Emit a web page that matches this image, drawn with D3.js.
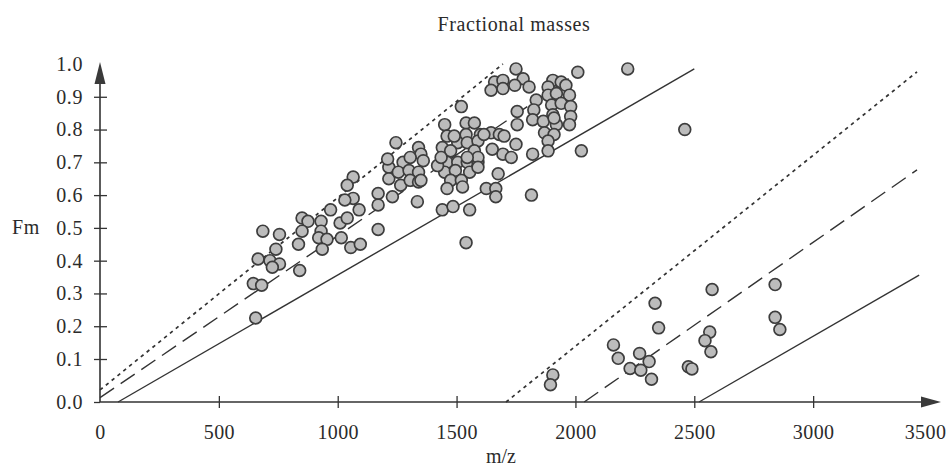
<!DOCTYPE html>
<html>
<head>
<meta charset="utf-8">
<script src="https://cdn.jsdelivr.net/npm/d3@7"></script>
<style>
  body { margin: 0; background: #fff; }
  text { font-family: "Liberation Serif", "Times New Roman", serif; fill: #2b2b2b; }
</style>
</head>
<body>
<svg id="chart" width="950" height="467"></svg>
<script>
// Fractional mass (Fm) against m/z for the measured peptide ions.
const chartTitle = "Fractional masses";
const xTitle = "m/z";
const yTitle = "Fm";

const xTicks = [0, 500, 1000, 1500, 2000, 2500, 3000, 3500];
const yTicks = [0, 0.1, 0.2, 0.3, 0.4, 0.5, 0.6, 0.7, 0.8, 0.9, 1.0];

// Singly charged ions: [m/z, Fm]
const singlyCharged = [
  [655,0.225],[645,0.33],[680,0.325],[665,0.405],[715,0.40],[755,0.39],[725,0.38],[740,0.435],
  [755,0.48],[685,0.49],[835,0.45],[840,0.37],
  [850,0.53],[875,0.52],[850,0.49],[970,0.555],[930,0.52],[930,0.49],[920,0.47],[955,0.465],
  [935,0.435],[1010,0.515],[1040,0.53],[1065,0.59],[1065,0.655],[1040,0.63],[1090,0.555],
  [1015,0.47],[1055,0.44],[1095,0.45],[1170,0.495],[1170,0.605],[1170,0.57],[1230,0.595],
  [1030,0.585],
  [1245,0.76],[1340,0.745],[1350,0.725],[1215,0.685],[1275,0.70],[1305,0.715],[1360,0.705],
  [1215,0.65],[1255,0.67],[1300,0.675],[1340,0.67],[1265,0.63],[1305,0.645],[1340,0.64],[1335,0.58],
  [1210,0.71],[1350,0.645],
  [1750,0.985],[2010,0.975],[1660,0.945],[1695,0.95],[1780,0.955],[1645,0.92],[1695,0.925],
  [1745,0.935],[1805,0.93],[1905,0.95],[1940,0.945],[1960,0.935],[1885,0.93],[1520,0.87],
  [1835,0.89],[1885,0.905],[1920,0.91],[1975,0.905],[1755,0.855],[1825,0.86],[1900,0.875],
  [1940,0.88],[1980,0.87],[1755,0.815],[1820,0.83],[1905,0.845],[1865,0.825],[1920,0.815],
  [1980,0.84],[1975,0.815],[1870,0.79],[1910,0.785],[1885,0.765],[1885,0.735],[1820,0.725],
  [2025,0.735],[1450,0.815],[1540,0.82],[1575,0.82],[1460,0.78],[1540,0.785],[1600,0.785],
  [1645,0.79],[1680,0.785],[1505,0.76],[1545,0.76],[1590,0.765],[1750,0.755],[1440,0.745],
  [1475,0.735],[1575,0.735],[1650,0.74],[1695,0.725],[1730,0.715],[1460,0.70],[1505,0.70],
  [1545,0.70],[1590,0.70],[1450,0.67],[1495,0.675],[1555,0.67],[1475,0.645],[1520,0.645],
  [1675,0.665],[1460,0.62],[1525,0.625],[1625,0.62],[1665,0.62],[1665,0.595],[1815,0.60],
  [1440,0.555],[1485,0.565],[1555,0.555],[1540,0.455],[2220,0.985],[2460,0.80],
  [1420,0.69],[1435,0.715],[1590,0.715],[1615,0.785],[1700,0.78],[1590,0.685],[1910,0.835],
  [1490,0.78],[1545,0.715]
];

// Doubly charged ions: [m/z, Fm]
const doublyCharged = [
  [1905,0.063],[1895,0.04],[2160,0.143],[2180,0.102],[2270,0.117],[2230,0.078],[2275,0.074],
  [2310,0.094],[2320,0.053],[2335,0.27],[2350,0.195],[2475,0.082],[2490,0.077],[2565,0.182],
  [2545,0.156],[2570,0.122],[2575,0.312],[2840,0.327],[2840,0.227],[2860,0.19]
];

// Boundary lines of the expected Fm bands (start and end in data units)
const boundaryNames = ["upper limit", "mean", "lower limit", "upper limit 2+", "mean 2+", "lower limit 2+"];
const boundaryStartMz = [0, 0, 76, 1708, 2037, 2520];
const boundaryStartFm = [0.028, 0.01, 0, 0, 0, 0];
const boundaryEndMz = [1695, 2000, 2500, 3437, 3437, 3446];
const boundaryEndFm = [1.0, 0.97, 0.985, 0.976, 0.677, 0.356];

const dashFor = {
  "upper limit": "3.5,4", "upper limit 2+": "3.5,4",
  "mean": "17,8", "mean 2+": "17,8",
  "lower limit": null, "lower limit 2+": null
};

const svg = d3.select("#chart");
const ink = "#333";

const x = d3.scaleLinear().domain([0, 3500]).range([100, 932]);
// The 0.0 to 0.1 interval is drawn a little taller than the others.
const y = d3.scaleLinear().domain([0, 0.1, 1.0]).range([402, 359, 64]);

// Title and axis titles
svg.append("text").attr("x", 514).attr("y", 31).attr("text-anchor", "middle")
  .style("font-size", "20px").style("letter-spacing", "0.6px").text(chartTitle);
svg.append("text").attr("x", 12).attr("y", y(0.5) + 6.5)
  .style("font-size", "20px").style("letter-spacing", "0.6px").text(yTitle);
svg.append("text").attr("x", 501).attr("y", 463).attr("text-anchor", "middle")
  .style("font-size", "20px").text(xTitle);

// Boundary lines
const lineGen = d3.line().x(d => x(d[0])).y(d => y(d[1]));
const boundaries = boundaryNames.map((name, i) => ({
  name,
  pts: [[boundaryStartMz[i], boundaryStartFm[i]], [boundaryEndMz[i], boundaryEndFm[i]]]
}));
svg.append("g").selectAll("path").data(boundaries).join("path")
  .attr("d", d => lineGen(d.pts))
  .attr("fill", "none")
  .attr("stroke", ink)
  .attr("stroke-width", d => d.name.startsWith("upper") ? 1.7 : 1.4)
  .attr("stroke-dasharray", d => dashFor[d.name]);

// Axes
const xAxis = svg.append("g").attr("transform", `translate(0,${y(0)})`)
  .call(d3.axisBottom(x).tickValues(xTicks).tickFormat(d3.format("d")).tickSize(6));
xAxis.select(".domain").remove();
xAxis.selectAll(".tick line").attr("y1", -6).attr("y2", 6).attr("stroke", ink).attr("stroke-width", 1.3)
  .filter(d => d === 3500 || d === 0).remove();
xAxis.selectAll(".tick text").attr("y", 23).attr("dy", "0.71em")
  .style("font-size", "20px").style("letter-spacing", "0.4px").attr("fill", "#2b2b2b")
  .filter(d => d === 3500).attr("dx", -7);

const yAxis = svg.append("g").attr("transform", `translate(${x(0)},0)`)
  .call(d3.axisLeft(y).tickValues(yTicks).tickFormat(d3.format(".1f")).tickSize(6));
yAxis.select(".domain").remove();
yAxis.selectAll(".tick line").attr("x1", -6).attr("x2", 7).attr("stroke", ink).attr("stroke-width", 1.3)
  .filter(d => d === 1.0).remove();
yAxis.selectAll(".tick line").filter(d => d === 0).attr("x2", 0);
yAxis.selectAll(".tick text").attr("x", -17).attr("dy", "0.32em")
  .style("font-size", "20px").style("letter-spacing", "0.6px").attr("fill", "#2b2b2b");

// Axis lines with arrow heads
svg.append("line").attr("x1", x(0)).attr("x2", 925).attr("y1", y(0)).attr("y2", y(0))
  .attr("stroke", ink).attr("stroke-width", 1.6);
svg.append("path").attr("d", `M921,${y(0) - 5.5}L941,${y(0)}L921,${y(0) + 5.5}Z`).attr("fill", "#3a3a3a");
svg.append("line").attr("x1", x(0)).attr("x2", x(0)).attr("y1", y(0)).attr("y2", 78)
  .attr("stroke", ink).attr("stroke-width", 1.6);
svg.append("path").attr("d", `M${x(0) - 5.5},84L${x(0)},62L${x(0) + 5.5},84Z`).attr("fill", "#3a3a3a");

// Ions
const ions = singlyCharged.concat(doublyCharged);
svg.append("g").selectAll("circle").data(ions).join("circle")
  .attr("cx", d => x(d[0]))
  .attr("cy", d => y(d[1]))
  .attr("r", 5.9)
  .attr("fill", "#bcbcbc")
  .attr("stroke", "#3d3d3d")
  .attr("stroke-width", 1.7);
</script>
</body>
</html>
